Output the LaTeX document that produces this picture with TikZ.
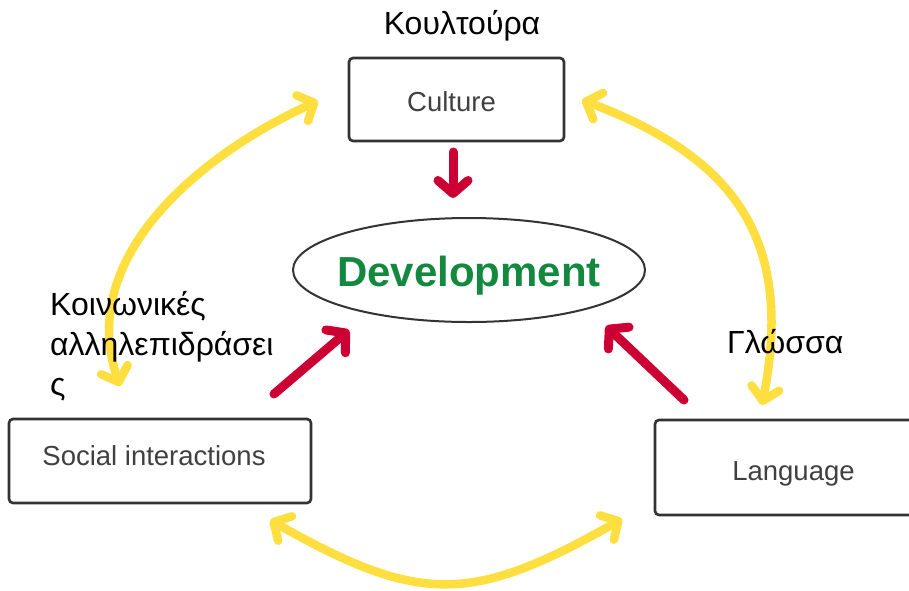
\documentclass[tikz,border=0pt]{standalone}
\usepackage{fontspec}
\setmainfont{Liberation Sans}
\usetikzlibrary{arrows.meta,shapes.geometric}
\definecolor{boxline}{HTML}{333333}
\definecolor{boxtext}{HTML}{404040}
\definecolor{devgreen}{HTML}{13893F}
\definecolor{redarrow}{HTML}{CC0033}
\definecolor{yelarrow}{HTML}{FFDE40}
\begin{document}
\begin{tikzpicture}[x=1pt,y=-1pt,
 box/.style={draw=boxline, line width=2.6pt, rounded corners=4pt, text=boxtext, font=\fontsize{27.5}{32}\selectfont, inner sep=0pt},
 redarr/.style={draw=redarrow, line width=9pt, line cap=round, -{Straight Barb[length=13pt,width=30pt,round]}},
 yelarr/.style={draw=yelarrow, line width=8.5pt, line cap=round, {Straight Barb[length=13pt,width=28pt,round]}-{Straight Barb[length=13pt,width=28pt,round]}},
 lbl/.style={font=\fontsize{32}{40}\selectfont, inner sep=0pt, text=black}]
\useasboundingbox (0,0) rectangle (909,590);
\clip (0,0) rectangle (909,590);
\fill[white] (0,0) rectangle (909,590);

% yellow double arrows
\coordinate (yl1) at (318,101);
\coordinate (yl2) at (120,386);
\coordinate (yr1) at (582,100);
\coordinate (yr2) at (762,405);
\coordinate (yb1) at (270,520);
\coordinate (yb2) at (622,519);
\draw[yelarr] (yl1) .. controls (205,152) and (75,255) .. (yl2);
\draw[yelarr] (yr1) .. controls (731.6,156.5) and (795,236) .. (yr2);
\draw[yelarr] (yb1) .. controls (420,605) and (472,604) .. (yb2);

% boxes
\node[box, minimum width=215pt, minimum height=83pt, text height=23pt, text depth=0pt] (culture) at (456.5,99.5) {Culture\hspace*{10pt}};
\node[box, minimum width=302pt, minimum height=84pt, text height=19pt, text depth=11pt] (social) at (160,461) {Social interactions\hspace*{12pt}};
\node[box, minimum width=277pt, minimum height=95pt, text height=25pt, text depth=0pt] (language) at (793.5,467.5) {Language};
\node[draw=boxline, line width=2pt, ellipse, minimum width=352pt, minimum height=104pt, inner sep=0pt,
      text=devgreen, font=\fontsize{42}{48}\selectfont\bfseries, text height=32pt, text depth=0pt] (dev) at (469,270) {\makebox[0pt][c]{Development}};

% red arrows
\coordinate (r1s) at (453,152);
\coordinate (r1e) at (453,198);
\coordinate (r2s) at (274,394);
\coordinate (r2e) at (349,330);
\coordinate (r3s) at (684,400);
\coordinate (r3e) at (606,326);
\draw[redarr] (r1s) -- (r1e);
\draw[redarr] (r2s) -- (r2e);
\draw[redarr] (r3s) -- (r3e);

% labels
\node[lbl, anchor=base] (kult) at (462,34) {Κουλτούρα};
\node[lbl, anchor=base west] (glossa) at (727,353) {Γλώσσα};
\node[lbl, align=left, anchor=base west] (koin) at (50,395) {Κοινωνικές\\αλληλεπιδράσει\\ς};
\end{tikzpicture}
\end{document}
